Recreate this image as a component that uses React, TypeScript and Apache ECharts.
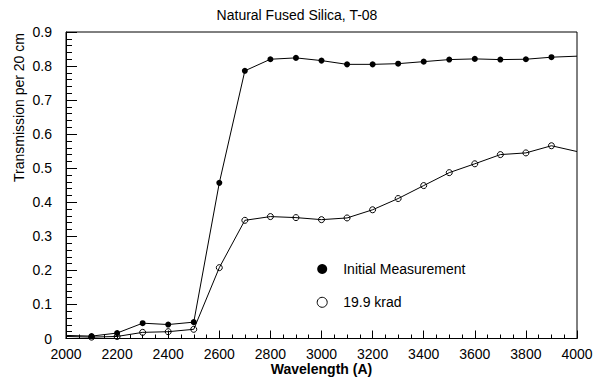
import React, { useEffect, useRef } from "react";
import * as echarts from "echarts";

const wavelengths = [2000, 2100, 2200, 2300, 2400, 2500, 2600, 2700, 2800, 2900, 3000, 3100, 3200, 3300, 3400, 3500, 3600, 3700, 3800, 3900, 4000];
const initialMeasurement = [0.009, 0.007, 0.016, 0.045, 0.041, 0.048, 0.457, 0.786, 0.820, 0.824, 0.816, 0.805, 0.805, 0.807, 0.813, 0.819, 0.821, 0.819, 0.820, 0.826, 0.829];
const krad199 = [0.006, 0.004, 0.006, 0.018, 0.020, 0.027, 0.208, 0.347, 0.358, 0.355, 0.349, 0.354, 0.378, 0.411, 0.449, 0.487, 0.513, 0.540, 0.545, 0.566, 0.549];
// points drawn without a marker (line runs to the frame)
const unmarked = [2000, 4000];

const seriesNames = ["Initial Measurement", "19.9 krad"];
const titleText = "Natural Fused Silica, T-08";
const xName = "Wavelength (A)";
const yName = "Transmission per 20 cm";

const FONT = "'Liberation Sans', Arial, Helvetica, sans-serif";

function buildData(vals: number[]) {
  return wavelengths.map((w, i) =>
    unmarked.includes(w)
      ? { value: [w, vals[i]], symbol: "none" }
      : { value: [w, vals[i]] }
  );
}

export default function App() {
  const ref = useRef<HTMLDivElement>(null);
  useEffect(() => {
    if (!ref.current) return;
    const chart = echarts.init(ref.current, undefined, { renderer: "svg" });
    chart.setOption({
      animation: false,
      backgroundColor: "#fff",
      textStyle: { fontFamily: FONT },
      title: {
        text: titleText,
        left: "center",
        top: 8,
        padding: 0,
        textStyle: { fontFamily: FONT, fontSize: 14, fontWeight: "normal", color: "#000" },
      },
      grid: {
        left: 66,
        right: 17,
        top: 32,
        bottom: 39.5,
        outerBoundsMode: "none",
        containLabel: false,
        show: true,
        borderColor: "#000",
        borderWidth: 1,
        backgroundColor: "transparent",
      },
      legend: {
        orient: "vertical",
        left: 316.7,
        top: 262,
        itemWidth: 10,
        itemHeight: 14,
        itemGap: 19.3,
        padding: 0,
        selectedMode: false,
        textStyle: { fontFamily: FONT, fontSize: 14, color: "#000", padding: [0, 0, 0, 11] },
        data: [
          { name: seriesNames[0], icon: "circle", itemStyle: { color: "#000", borderWidth: 0 } },
          { name: seriesNames[1], icon: "circle", itemStyle: { color: "#fff", borderColor: "#000", borderWidth: 1 } },
        ],
      },
      graphic: [
        {
          type: "text",
          x: 19,
          y: 107.5,
          rotation: Math.PI / 2,
          style: {
            text: yName,
            fontFamily: FONT,
            fontSize: 14,
            fill: "#000",
            textAlign: "center",
            textVerticalAlign: "middle",
          },
        },
      ],
      xAxis: {
        type: "value",
        min: 2000,
        max: 4000,
        interval: 200,
        name: xName,
        nameLocation: "middle",
        nameGap: 23,
        nameMoveOverlap: false,
        nameTextStyle: { fontFamily: FONT, fontSize: 14, fontWeight: "bold", color: "#000" },
        axisLine: { show: true, lineStyle: { color: "#000", width: 1 } },
        axisTick: { show: true, inside: true, length: 8, lineStyle: { color: "#000" } },
        minorTick: { show: true, splitNumber: 4, length: 4, lineStyle: { color: "#000" } },
        axisLabel: {
          margin: 8,
          fontFamily: FONT,
          fontSize: 14,
          color: "#000",
          formatter: (v: number) => String(v),
        },
        splitLine: { show: false },
        minorSplitLine: { show: false },
      },
      yAxis: {
        type: "value",
        min: 0,
        max: 0.9,
        interval: 0.1,
        axisLine: { show: true, lineStyle: { color: "#000", width: 1 } },
        axisTick: { show: true, inside: true, length: 11, lineStyle: { color: "#000" } },
        minorTick: { show: true, splitNumber: 5, length: 6, lineStyle: { color: "#000" } },
        axisLabel: {
          margin: 14,
          fontFamily: FONT,
          fontSize: 14,
          color: "#000",
          formatter: (v: number) => (v === 0 ? "0" : v.toFixed(1)),
        },
        splitLine: { show: false },
        minorSplitLine: { show: false },
      },
      series: [
        {
          name: seriesNames[0],
          type: "line",
          data: buildData(initialMeasurement),
          symbol: "circle",
          symbolSize: 6,
          showAllSymbol: true,
          lineStyle: { color: "#000", width: 1 },
          itemStyle: { color: "#000", borderWidth: 0 },
          z: 3,
        },
        {
          name: seriesNames[1],
          type: "line",
          data: buildData(krad199),
          symbol: "circle",
          symbolSize: 6,
          showAllSymbol: true,
          lineStyle: { color: "#000", width: 1 },
          itemStyle: { color: "transparent", borderColor: "#000", borderWidth: 1 },
          z: 2,
        },
      ],
    });
    return () => chart.dispose();
  }, []);
  return <div ref={ref} style={{ width: 594, height: 378, position: "absolute", left: 0, top: 0 }} />;
}
